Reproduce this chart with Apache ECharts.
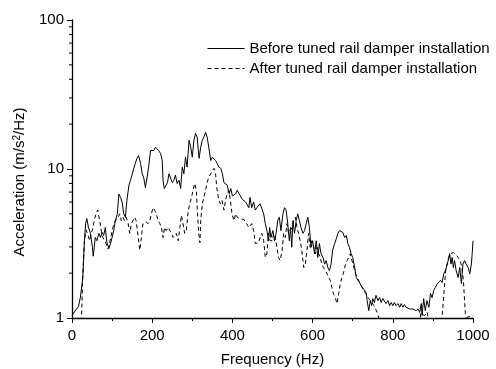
<!DOCTYPE html>
<html>
<head>
<meta charset="utf-8">
<script src="https://cdn.jsdelivr.net/npm/echarts@6/dist/echarts.min.js"></script>
<style>
html,body{margin:0;padding:0;background:#fff;}
#chart{width:496px;height:369px;}
</style>
</head>
<body>
<div id="chart"></div>
<script>
const seriesNames = ['Before tuned rail damper installation', 'After tuned rail damper installation'];
const xTickLabels = [0, 200, 400, 600, 800, 1000];
const yTickLabels = [1, 10, 100];
const yMinorTicks = [2,3,4,5,6,7,8,9,20,30,40,50,60,70,80,90];

const beforeFreq = [0,11,16,21,27,31,34,37,41,46,51,53,58,62,67,71,75,79,83,87,92,96,100,104,108,113,117,121,125,129,133,137,142,146,150,154,158,162,166,171,175,179,183,187,191,196,200,204,208,212,216,221,225,227,230,234,238,242,246,250,254,258,262,267,271,275,279,283,287,292,296,300,304,308,312,317,321,325,329,333,337,341,346,350,354,358,362,366,371,375,379,383,387,392,396,400,404,408,412,416,421,425,429,433,437,441,444,448,453,457,461,465,469,473,478,482,486,490,493,496,501,505,509,513,517,521,526,530,534,538,542,545,548,551,555,559,563,567,571,576,580,584,588,592,596,600,605,609,613,617,621,626,630,634,638,642,646,650,655,659,663,667,671,675,680,684,688,692,696,700,705,709,713,717,721,725,730,734,736,740,744,747,750,754,758,763,767,771,775,779,783,788,792,796,800,804,808,813,817,821,825,829,833,837,842,846,850,854,858,863,867,871,873,877,881,885,890,894,898,902,906,911,915,919,923,927,931,936,940,942,945,948,951,954,958,963,967,971,975,979,983,988,992,996,998,1000];
const beforeVal = [1.04,1.15,1.19,1.38,1.88,3.3,4.3,4.65,4.06,3.7,2.98,2.6,3.47,3.3,3.7,3.47,3.76,3.58,4.05,3.23,2.93,3.16,3.47,3.86,4.5,5.0,6.8,6.45,6.0,5.0,4.75,6.17,7.8,8.4,8.4,10.1,10.9,11.8,12.3,10.9,9.3,8.7,7.5,8.7,10.3,13.3,13.7,13.3,14.0,14.4,13.3,12.7,11.4,8.4,7.4,7.5,8.1,9.3,9.5,8.1,8.4,9.1,8.0,8.4,7.4,10.3,9.3,12.0,10.3,15.6,14.0,12.0,15.6,17.3,16.4,11.8,14.0,15.6,16.4,17.6,16.4,14.0,11.4,12.0,12.3,11.4,10.9,10.3,10.1,9.3,8.1,8.0,7.8,6.8,7.4,6.6,6.8,6.8,7.2,7.0,6.5,6.25,6.25,6.0,5.85,5.5,6.45,5.5,6.0,5.3,5.5,5.4,5.85,6.0,5.0,4.3,3.86,3.3,4.05,3.47,3.86,3.3,3.7,4.5,4.75,3.86,5.0,5.5,5.3,4.3,3.3,4.05,2.98,4.5,3.7,4.5,5.0,4.5,4.05,3.7,3.86,4.3,4.75,4.05,2.98,3.3,2.7,3.3,2.55,3.16,2.7,2.55,2.3,2.43,2.18,2.08,2.3,2.85,3.16,3.4,3.7,3.86,3.86,3.76,3.47,3.58,3.16,2.98,2.7,2.55,2.18,1.87,1.79,1.73,1.65,1.6,1.53,1.46,1.31,1.12,1.31,1.21,1.35,1.27,1.42,1.31,1.37,1.27,1.35,1.31,1.25,1.31,1.21,1.27,1.21,1.27,1.21,1.25,1.18,1.25,1.18,1.23,1.18,1.21,1.15,1.18,1.15,1.18,1.12,1.15,1.09,1.25,1.04,1.35,1.12,1.31,1.18,1.46,1.37,1.53,1.6,1.7,1.65,1.79,1.73,1.98,2.08,2.3,2.55,2.7,2.3,2.55,2.18,2.43,2.08,1.87,2.18,1.7,2.3,2.43,2.3,2.18,1.98,2.3,2.7,3.3];

const afterFreq = [23,27,31,35,40,44,48,52,56,60,64,69,73,77,81,85,90,94,98,102,106,110,115,119,123,127,131,135,140,144,148,152,156,160,165,169,173,177,181,185,190,194,198,202,206,210,215,219,223,227,231,235,240,244,248,252,256,260,265,269,273,277,281,285,290,294,298,302,306,310,313,316,319,321,325,329,333,337,341,346,350,354,358,361,366,370,374,379,383,387,391,395,399,404,408,412,416,420,424,428,433,437,441,444,448,453,457,461,465,469,473,478,482,486,490,494,499,503,507,511,515,519,524,528,532,536,540,544,549,553,557,561,565,569,573,578,582,586,590,594,598,603,607,611,615,619,623,627,632,636,640,644,648,652,657,661,665,669,673,677,682,686,690,694,698,703,707,711,715,719,723,728,732,736,740,744,748,753,757,761,765,769,865,870,875,880,886,890,920,925,932,938,943,951,958,963,968,972,976,981,984,987,995,1000];
const afterVal = [0.85,2.0,3.3,3.9,3.6,3.3,3.7,4.0,4.6,5.0,5.3,4.5,3.86,3.47,3.4,3.16,2.9,3.2,3.6,4.05,4.4,4.5,4.75,5.0,4.5,4.75,4.5,4.75,4.3,3.7,4.3,4.5,4.75,4.5,3.5,2.85,3.47,4.3,4.4,4.4,4.3,4.5,5.0,5.5,5.3,5.0,4.5,4.3,4.05,3.47,4.05,3.86,4.05,3.86,3.7,3.47,3.4,3.7,3.3,4.05,4.88,4.75,3.7,3.86,5.3,5.85,6.45,7.2,8.0,7.2,5.0,3.7,3.2,4.5,5.85,6.45,7.2,8.1,8.8,9.3,9.1,10.1,9.3,7.5,6.17,5.85,6.17,5.3,6.17,6.8,7.2,6.17,5.0,4.5,5.0,4.75,4.88,4.6,4.5,4.6,4.4,4.3,4.05,4.05,4.3,3.86,3.16,3.1,3.2,3.47,3.7,3.3,2.55,2.7,3.7,3.3,3.3,3.7,3.47,2.98,2.55,2.43,2.85,3.7,3.47,4.3,3.7,3.86,4.05,4.5,4.75,4.05,3.7,3.3,2.85,2.18,2.3,2.85,3.7,2.98,3.3,2.98,2.7,2.98,2.7,2.55,2.3,2.18,2.08,1.98,1.87,1.79,1.6,1.46,1.35,1.25,1.46,1.7,1.87,2.0,2.3,2.43,2.55,2.7,2.43,2.18,1.98,1.87,1.82,1.7,1.6,1.53,1.46,1.42,1.35,1.31,1.27,1.21,1.15,1.09,1.0,0.85,0.85,1.08,1.05,1.04,1.1,0.85,0.85,1.2,2.1,2.5,2.7,2.75,2.65,2.55,2.43,2.2,1.79,1.07,0.95,1.02,1.02,1.02];

const pairs = (xs, ys) => xs.map((x, i) => [x, ys[i]]);
const FONT = 'Liberation Sans, Arial, sans-serif';

const chart = echarts.init(document.getElementById('chart'), null, {renderer: 'canvas'});
chart.setOption({
  animation: false,
  backgroundColor: '#fff',
  textStyle: {fontFamily: FONT, color: '#000'},
  grid: {left: 72, right: 23, top: 20, bottom: 51, containLabel: false, outerBoundsMode: 'none'},
  legend: {
    orient: 'vertical', left: 202, top: 36, padding: 5,
    itemWidth: 37, itemHeight: 10, itemGap: 5,
    itemStyle: {opacity: 0},
    lineStyle: {width: 1},
    textStyle: {fontFamily: FONT, fontSize: 15, color: '#000', lineHeight: 15},
    data: seriesNames
  },
  xAxis: {
    type: 'value', min: 0, max: 1000, interval: 200,
    name: 'Frequency (Hz)', nameLocation: 'middle', nameGap: 34,
    nameTextStyle: {fontFamily: FONT, fontSize: 15, color: '#000'},
    axisLine: {lineStyle: {color: '#000', width: 1.3}},
    axisTick: {length: 5, lineStyle: {color: '#000', width: 1}},
    minorTick: {show: true, splitNumber: 2, length: 3, lineStyle: {color: '#000', width: 1}},
    axisLabel: {fontFamily: FONT, fontSize: 15, color: '#000', margin: 10,
      formatter: v => xTickLabels.includes(v) ? String(v) : ''},
    splitLine: {show: false}
  },
  yAxis: {
    type: 'log', logBase: 10, min: 1, max: 100,
    name: 'Acceleration (m/s{sup|2}/Hz)', nameLocation: 'middle', nameGap: 24, nameRotate: 90,
    nameTextStyle: {fontFamily: FONT, fontSize: 15, color: '#000', padding: [0, 26, 0, 0],
      rich: {sup: {fontFamily: FONT, fontSize: 10, color: '#000', verticalAlign: 'top', lineHeight: 10, padding: [0,0,6,0]}}},
    axisLine: {show: true, lineStyle: {color: '#000', width: 1.3}},
    axisTick: {show: true, length: 5, lineStyle: {color: '#000', width: 1}},
    axisLabel: {fontFamily: FONT, fontSize: 15, color: '#000', margin: 8,
      formatter: v => yTickLabels.includes(Math.round(v)) ? String(Math.round(v)) : ''},
    splitLine: {show: false}
  },
  series: [
    {
      name: seriesNames[0], type: 'line', data: pairs(beforeFreq, beforeVal),
      symbol: 'none', showSymbol: false, clip: true,
      lineStyle: {color: '#000', width: 1, type: 'solid'},
      itemStyle: {color: '#000'}
    },
    {
      name: seriesNames[1], type: 'line', data: pairs(afterFreq, afterVal),
      symbol: 'none', showSymbol: false, clip: true,
      lineStyle: {color: '#000', width: 1, type: [4, 3]},
      itemStyle: {color: '#000'}
    },
    {
      type: 'custom', silent: true, clip: false,
      data: yMinorTicks.map(v => [0, v]),
      renderItem: (params, api) => {
        const p = api.coord([api.value(0), api.value(1)]);
        return {type: 'line', shape: {x1: p[0] - 3, y1: p[1], x2: p[0], y2: p[1]},
          style: {stroke: '#000', lineWidth: 1}};
      }
    }
  ]
});
</script>
</body>
</html>
